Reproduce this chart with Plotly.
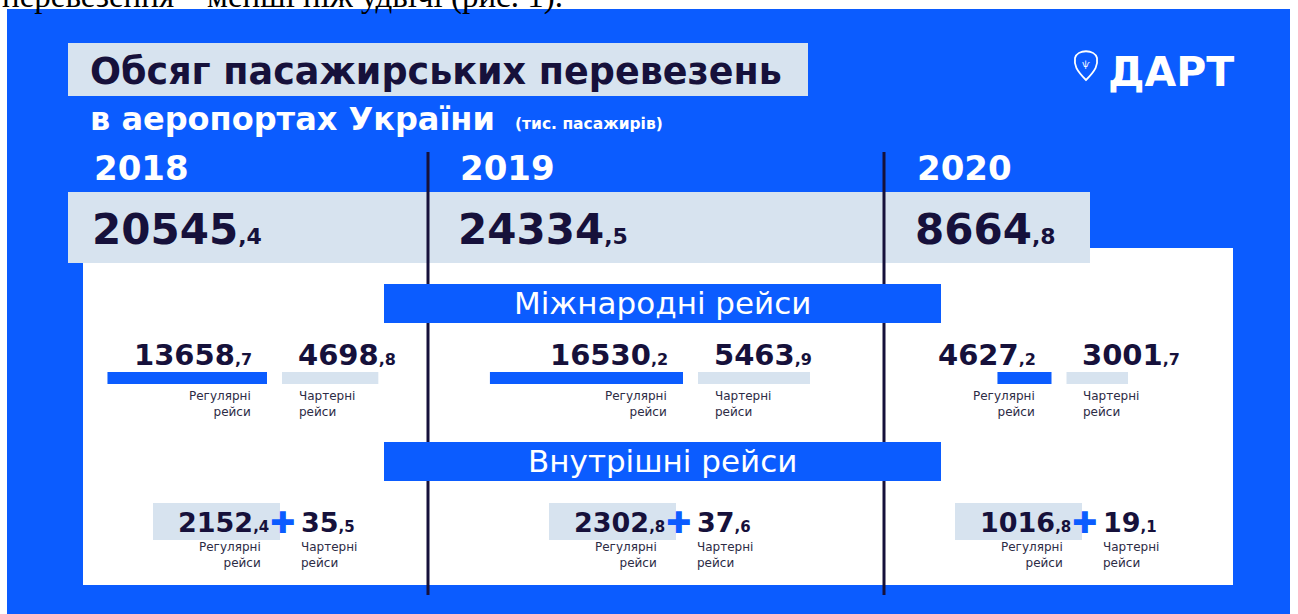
import plotly.graph_objects as go

# ---------------- data ----------------
YEARS = ["2018", "2019", "2020"]
TOTAL = [20545.4, 24334.5, 8664.8]
INTL_REGULAR = [13658.7, 16530.2, 4627.2]
INTL_CHARTER = [4698.8, 5463.9, 3001.7]
DOM_REGULAR = [2152.4, 2302.8, 1016.8]
DOM_CHARTER = [35.5, 37.6, 19.1]

TITLE = "Обсяг пасажирських перевезень"
SUBTITLE = "в аеропортах України"
UNITS = "(тис. пасажирів)"
INTL_LABEL = "Міжнародні рейси"
DOM_LABEL = "Внутрішні рейси"
REG_LABEL = "Регулярні<br>рейси"
CHA_LABEL = "Чартерні<br>рейси"
LOGO = "ДАРТ"
TOP_LINE = "перевезення – менші ніж удвічі (рис. 1)."

# ---------------- style / layout ----------------
W, H = 1298, 614
BLUE = "#0b5cff"
LIGHT = "#d7e3ef"
NAVY = "#16113b"
GREY = "#2c2b45"
WHITE = "#ffffff"
BOLD = "DejaVu Sans"
SANS = "DejaVu Sans"

YEAR_X = [92, 458, 915]             # left edge of year / total texts
INTL_CENTER = [274.5, 690.5, 1059]  # gap centre between regular and charter bars
DOM_PLUS = [282, 678, 1084]         # centre of the plus sign
REG_SCALE = 0.01168                 # px per thousand passengers (regular bars)
CHA_SCALE = 0.0205                  # px per thousand passengers (charter bars)


def split(v):
    a, b = f"{v:.1f}".split(".")
    return a, b


fig = go.Figure()
shapes = []
ann = []


def rect(x0, y0, x1, y1, color):
    shapes.append(dict(type="rect", xref="x", yref="y", x0=x0, y0=y0, x1=x1, y1=y1,
                       fillcolor=color, line=dict(width=0), layer="below"))


def text(x, y, s, size, color, xanchor="left", weight="bold", family=BOLD, align="left", yanchor="middle"):
    ann.append(dict(x=x, y=y, xref="x", yref="y", text=s, showarrow=False,
                    xanchor=xanchor, yanchor=yanchor, align=align,
                    font=dict(size=size, color=color, family=family, weight=weight)))


def num(v, small):
    a, b = split(v)
    return f"{a}<span style='font-size:{small}px'>,{b}</span>"


# background
rect(7, 9, 1290, H + 5, BLUE)
# white panel
rect(83, 248, 1233, 585, WHITE)
# light strip for totals
rect(68, 192, 1090, 263, LIGHT)
# title box
rect(68, 43, 808, 96, LIGHT)

# vertical separators
for xv in (428, 884):
    shapes.append(dict(type="line", xref="x", yref="y", x0=xv, x1=xv, y0=152, y1=595,
                       line=dict(color=NAVY, width=3), layer="below"))

# section bands
rect(384, 284, 941, 323, BLUE)
rect(384, 442, 941, 481, BLUE)

# domestic regular boxes
for p in DOM_PLUS:
    rect(p - 129, 503, p - 2, 540, LIGHT)

# logo pin
shapes.append(dict(type="path", xref="x", yref="y",
                   path="M 1086,80 C 1076,70 1074,65 1075,58 C 1077,49 1095,49 1097,58 C 1098,65 1096,70 1086,80 Z",
                   line=dict(color=WHITE, width=1.8), fillcolor="rgba(0,0,0,0)", layer="above"))

# ---------------- bars ----------------
fig.add_trace(go.Bar(orientation="h", y=[378] * 3,
                     x=[-v * REG_SCALE for v in INTL_REGULAR],
                     base=[c - 7.5 for c in INTL_CENTER],
                     width=12, marker=dict(color=BLUE, line=dict(width=0)),
                     hoverinfo="skip", showlegend=False))
fig.add_trace(go.Bar(orientation="h", y=[378] * 3,
                     x=[v * CHA_SCALE for v in INTL_CHARTER],
                     base=[c + 7.5 for c in INTL_CENTER],
                     width=12, marker=dict(color=LIGHT, line=dict(width=0)),
                     hoverinfo="skip", showlegend=False))

# ---------------- texts ----------------
# the line of body text above the figure, cut off by the top edge as in the source
ann.append(dict(x=0, y=1 + 3.5 / H, xref="paper", yref="paper", text=TOP_LINE, showarrow=False,
                xanchor="left", yanchor="middle",
                font=dict(size=33, color="#000000", family="Liberation Serif")))
text(88, 71, TITLE, 36.5, NAVY)
text(88, 119, SUBTITLE, 32, WHITE)
text(513, 124, UNITS, 15.5, WHITE)
text(1106, 72, LOGO, 41, WHITE)
text(1086, 64, "ѱ", 9, WHITE, xanchor="center", weight="normal")

for i in range(3):
    text(YEAR_X[i], 168, YEARS[i], 34, WHITE)
    text(YEAR_X[i] - 2, 229, num(TOTAL[i], 22), 42, NAVY)

    c = INTL_CENTER[i]
    text(c - 21, 355, num(INTL_REGULAR[i], 16), 29, NAVY, xanchor="right")
    text(c + 21, 355, num(INTL_CHARTER[i], 16), 29, NAVY)
    text(c - 22, 404, REG_LABEL, 12, GREY, xanchor="right", align="right", weight="normal", family=SANS)
    text(c + 22, 404, CHA_LABEL, 12, GREY, weight="normal", family=SANS)

    p = DOM_PLUS[i]
    text(p - 11, 522, num(DOM_REGULAR[i], 15), 27, NAVY, xanchor="right")
    text(p, 522, "✚", 30, BLUE, xanchor="center", weight="normal")
    text(p + 17, 522, num(DOM_CHARTER[i], 15), 27, NAVY)
    text(p - 19, 555, REG_LABEL, 12, GREY, xanchor="right", align="right", weight="normal", family=SANS)
    text(p + 17, 555, CHA_LABEL, 12, GREY, weight="normal", family=SANS)

text(662, 303, INTL_LABEL, 31, WHITE, xanchor="center", weight="normal", family=SANS)
text(662, 461, DOM_LABEL, 31, WHITE, xanchor="center", weight="normal", family=SANS)

fig.update_layout(
    width=W, height=H,
    margin=dict(l=0, r=0, t=0, b=0),
    paper_bgcolor=WHITE, plot_bgcolor=WHITE,
    barmode="overlay",
    xaxis=dict(range=[0, W], visible=False, fixedrange=True),
    yaxis=dict(range=[H, 0], visible=False, fixedrange=True),
    shapes=shapes, annotations=ann,
    showlegend=False,
)

fig.write_html("out.html", config={"displayModeBar": False},
               post_script="document.body.style.margin='0';document.body.style.padding='0';")
